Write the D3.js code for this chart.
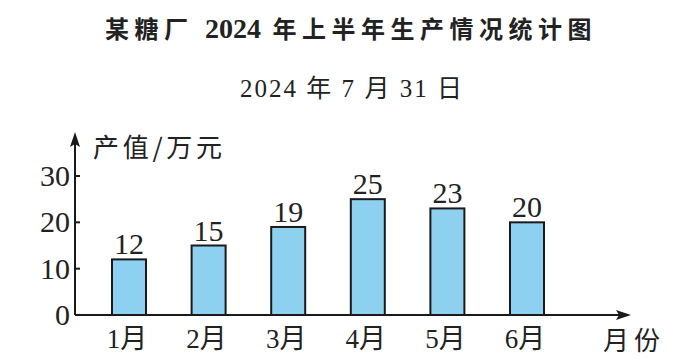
<!DOCTYPE html>
<html>
<head>
	<meta charset="utf-8">
	<title>某糖厂 2024 年上半年生产情况统计图</title>
	<style>
		body { margin: 0; background: #fff; }
		svg { display: block; }
		.serif { font-family: 'Liberation Serif', 'Noto Sans CJK SC', serif; fill: #222; }
		.cjk { font-family: 'Noto Sans CJK SC', sans-serif; fill: #222; }
	</style>
</head>
<body>
	<svg width="694" height="364"></svg>
<script src="https://d3js.org/d3.v7.min.js"></script>
<script>
	// data
	const months = ['1月', '2月', '3月', '4月', '5月', '6月'];
	const values = [12, 15, 19, 25, 23, 20];
	const yTicks = [0, 10, 20, 30];

	const svg = d3.select('svg');

	const x0 = 75, y0 = 315;
	const barW = 34;

	const x = d3.scalePoint()
		.domain(months)
		.range([129, 527]);

	const y = d3.scaleLinear()
		.domain([0, 30])
		.range([y0, 176]);

	// titles - digits tight and bigger, cjk spaced out
	const title = svg.append('text')
		.attr('class', 'serif')
		.attr('x', 105).attr('y', 38)
		.style('font-size', '24px').style('font-weight', 'bold');
	[['某糖厂 ', 5.5, 24], ['2024', 0, 28], [' 年上半年生产情况统计图', 5.5, 24]].forEach(p => {
		title.append('tspan')
			.style('letter-spacing', p[1] + 'px')
			.style('font-size', p[2] + 'px')
			.text(p[0]);
	});

	svg.append('text')
		.attr('class', 'serif')
		.attr('x', 240).attr('y', 97)
		.attr('textLength', 222).attr('lengthAdjust', 'spacing')
		.style('font-size', '25px')
		.text('2024 年 7 月 31 日');

	// bars
	svg.selectAll('rect.bar')
		.data(values)
		.join('rect')
		.attr('class', 'bar')
		.attr('x', (d, i) => x(months[i]) - barW / 2)
		.attr('y', d => y(d))
		.attr('width', barW)
		.attr('height', d => y0 - y(d))
		.attr('fill', '#8dd0f0')
		.attr('stroke', '#1a1a1a')
		.attr('stroke-width', 2);

	// value labels
	svg.selectAll('text.val')
		.data(values)
		.join('text')
		.attr('class', 'val serif')
		.attr('x', (d, i) => x(months[i]))
		.attr('y', d => y(d) - 5)
		.attr('text-anchor', 'middle')
		.style('font-size', '30px')
		.text(d => d);

	// axes
	const axisColor = '#1a1a1a';
	svg.append('line')
		.attr('x1', x0).attr('y1', y0)
		.attr('x2', 622).attr('y2', y0)
		.attr('stroke', axisColor).attr('stroke-width', 2);
	svg.append('path')
		.attr('d', `M631,${y0} L616,${y0 - 5} L619,${y0} L616,${y0 + 5} Z`)
		.attr('fill', axisColor);

	svg.append('line')
		.attr('x1', x0).attr('y1', y0)
		.attr('x2', x0).attr('y2', 140)
		.attr('stroke', axisColor).attr('stroke-width', 2);
	svg.append('path')
		.attr('d', `M${x0},132 L${x0 - 5},147 L${x0},144 L${x0 + 5},147 Z`)
		.attr('fill', axisColor);

	// y ticks
	svg.selectAll('line.tick')
		.data(yTicks.filter(d => d > 0))
		.join('line')
		.attr('class', 'tick')
		.attr('x1', x0).attr('x2', x0 + 5)
		.attr('y1', d => y(d)).attr('y2', d => y(d))
		.attr('stroke', axisColor).attr('stroke-width', 2);

	svg.selectAll('text.ytick')
		.data(yTicks)
		.join('text')
		.attr('class', 'ytick serif')
		.attr('x', 70)
		.attr('y', d => y(d) + 10)
		.attr('text-anchor', 'end')
		.style('font-size', '30px')
		.text(d => d);

	// month labels
	svg.selectAll('text.month')
		.data(months)
		.join('text')
		.attr('class', 'month serif')
		.attr('x', d => x(d) - 2)
		.attr('y', 348)
		.attr('text-anchor', 'middle')
		.style('font-size', '27px')
		.text(d => d);

	// axis titles
	svg.append('text')
		.attr('class', 'cjk')
		.attr('x', 93).attr('y', 157)
		.attr('textLength', 129).attr('lengthAdjust', 'spacing')
		.style('font-size', '26px')
		.text('产值/万元');

	svg.append('text')
		.attr('class', 'cjk')
		.attr('x', 603).attr('y', 350)
		.attr('textLength', 57).attr('lengthAdjust', 'spacing')
		.style('font-size', '26px')
		.text('月份');
</script>
</body>
</html>
